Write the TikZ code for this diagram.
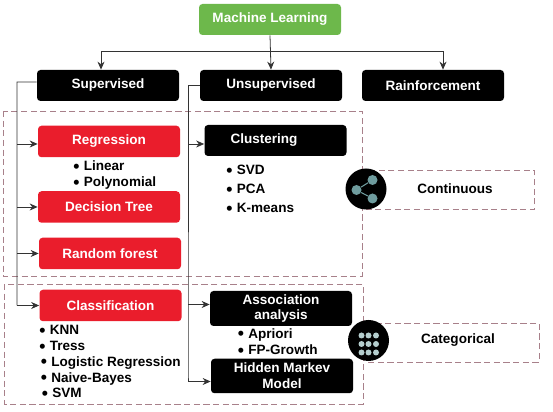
\documentclass[tikz,border=0pt]{standalone}
\usepackage{fontspec}
\usepackage{xcolor}
\usepackage{tikz}
\usetikzlibrary{arrows.meta}
\setmainfont{Liberation Sans}
\definecolor{mlGreen}{HTML}{6DB84B}
\definecolor{mlRed}{HTML}{EA1D2C}
\definecolor{mlDash}{HTML}{A8808A}
\definecolor{mlTeal}{HTML}{6F9C9E}
\definecolor{mlDot}{HTML}{B4CDCD}
\definecolor{mlLine}{HTML}{333333}
\tikzset{
  flow/.style={-{Stealth[length=1.6mm,width=1.4mm]}, line width=0.45pt, draw=mlLine},
  bus/.style={line width=0.45pt, draw=mlLine},
  base box/.style={rounded corners=2pt, align=center, minimum width=2.84cm,
    minimum height=0.62cm, inner sep=0pt, text=white,
    font=\fontsize{7.7}{9}\selectfont\bfseries},
  root box/.style={base box, fill=mlGreen},
  black box/.style={base box, fill=black},
  red box/.style={base box, fill=mlRed, minimum height=0.63cm},
  panel/.style={draw=mlDash, dash pattern=on 3.5pt off 2pt, line width=0.4pt},
  list item/.style={anchor=west, inner sep=0pt, text height=5.5pt, text depth=0pt,
    font=\fontsize{7.7}{9}\selectfont\bfseries},
  tag label/.style={inner sep=0pt, font=\fontsize{7.7}{9}\selectfont\bfseries},
  badge/.style={circle, fill=black, minimum size=0.82cm, inner sep=0pt},
  share dot/.style={circle, fill=mlTeal, minimum size=0.2cm, inner sep=0pt},
  grid dot/.style={circle, fill=mlDot, minimum size=0.12cm, inner sep=0pt}
}
\newcommand{\mlbullet}{\smash{\raisebox{-0.7pt}{\fontsize{10}{9}\selectfont\textbullet}}\hspace{2.5pt}}

\begin{document}
\begin{tikzpicture}
  \useasboundingbox (0,0) rectangle (11.06,8.24);
  \draw[panel] (0.07,6.02) rectangle (7.24,2.71);
  \draw[panel] (0.09,2.56) rectangle (7.26,0.16);
  \draw[panel] (7.32,4.83) rectangle (10.69,4.05);
  \draw[panel] (7.37,1.78) rectangle (10.78,1.00);

  \node[root box] (ml) at (5.40,7.85) {Machine Learning};
  \node[black box] (sup) at (2.16,6.53) {Supervised};
  \node[black box] (uns) at (5.42,6.53) {Unsupervised};
  \node[black box] (rai) at (8.66,6.53) {Rainforcement};

  \node[red box] (reg) at (2.18,5.41) {Regression};
  \node[red box] (dec) at (2.18,4.10) {Decision Tree};
  \node[red box] (ran) at (2.20,3.17) {Random forest};
  \node[red box] (cla) at (2.21,2.13) {Classification};
  \node[black box] (clu) at (5.51,5.43) {Clustering\kern0.46cm};
  \node[black box, minimum height=0.70cm] (aso) at (5.62,2.07) {Association\\analysis};
  \node[black box, minimum height=0.69cm] (hid) at (5.64,0.72) {Hidden Markev\\Model};

  \node[list item] (lin) at (1.46,4.92) {\mlbullet Linear};
  \node[list item] (pol) at (1.46,4.60) {\mlbullet Polynomial};
  \node[list item] (svd) at (4.52,4.84) {\mlbullet SVD};
  \node[list item] (pca) at (4.52,4.46) {\mlbullet PCA};
  \node[list item] (kme) at (4.52,4.08) {\mlbullet K-means};
  \node[list item] (apr) at (4.75,1.57) {\mlbullet Apriori};
  \node[list item] (fpg) at (4.75,1.24) {\mlbullet FP-Growth};
  \node[list item] (knn) at (0.78,1.64) {\mlbullet KNN};
  \node[list item] (tre) at (0.78,1.32) {\mlbullet Tress};
  \node[list item] (log) at (0.81,1.01) {\mlbullet Logistic Regression};
  \node[list item] (nai) at (0.81,0.69) {\mlbullet Naive-Bayes};
  \node[list item] (svm) at (0.83,0.38) {\mlbullet SVM};

  \draw[flow] (ml.south) -- (uns.north);
  \coordinate (top) at (5.40,7.21);
  \draw[flow] (top) -| ([xshift=-1.4mm]sup.north);
  \draw[flow] (top) -| ([xshift=2mm]rai.north);

  \coordinate (lbus) at (0.34,6.60);
  \draw[bus] ([yshift=0.7mm]sup.west) -- (lbus) -- (lbus |- cla.west);
  \draw[flow] ([yshift=-0.5mm]lbus |- reg.west) -- ([yshift=-0.5mm]reg.west);
  \draw[flow] (lbus |- dec.west) -- (dec.west);
  \draw[flow] (lbus |- ran.west) -- (ran.west);
  \draw[flow] (lbus |- cla.west) -- (cla.west);

  \coordinate (rbus) at (3.76,6.53);
  \draw[bus] (uns.west) -- (rbus) -- (rbus |- hid.west) -- ++(0,-0.11);
  \draw[flow] ([yshift=-0.7mm]rbus |- clu.west) -- ([yshift=-0.7mm]clu.west);
  \draw[flow] ([yshift=0.8mm]rbus |- aso.west) -- ([yshift=0.8mm]aso.west);
  \draw[flow] ([yshift=-1.1mm]rbus |- hid.west) -- ([yshift=-1.1mm]hid.west);

  \node[badge] (share) at (7.32,4.46) {};
  \node[share dot] (sa) at (7.45,4.64) {};
  \node[share dot] (sb) at (7.13,4.44) {};
  \node[share dot] (sc) at (7.45,4.27) {};
  \draw[mlTeal, line width=0.6pt] (sa) -- (sb) -- (sc);
  \node[tag label] (con) at (9.10,4.47) {Continuous};

  \node[badge] (grid) at (7.37,1.43) {};
  \node[grid dot] (g1) at (7.23,1.53) {};
  \node[grid dot] (g2) at (7.37,1.53) {};
  \node[grid dot] (g3) at (7.52,1.53) {};
  \node[grid dot] (g4) at (7.23,1.36) {};
  \node[grid dot] (g5) at (7.37,1.36) {};
  \node[grid dot] (g6) at (7.52,1.36) {};
  \node[grid dot] (g7) at (7.23,1.19) {};
  \node[grid dot] (g8) at (7.37,1.19) {};
  \node[grid dot] (g9) at (7.52,1.19) {};
  \node[tag label] (cat) at (9.16,1.43) {Categorical};
\end{tikzpicture}
\end{document}
